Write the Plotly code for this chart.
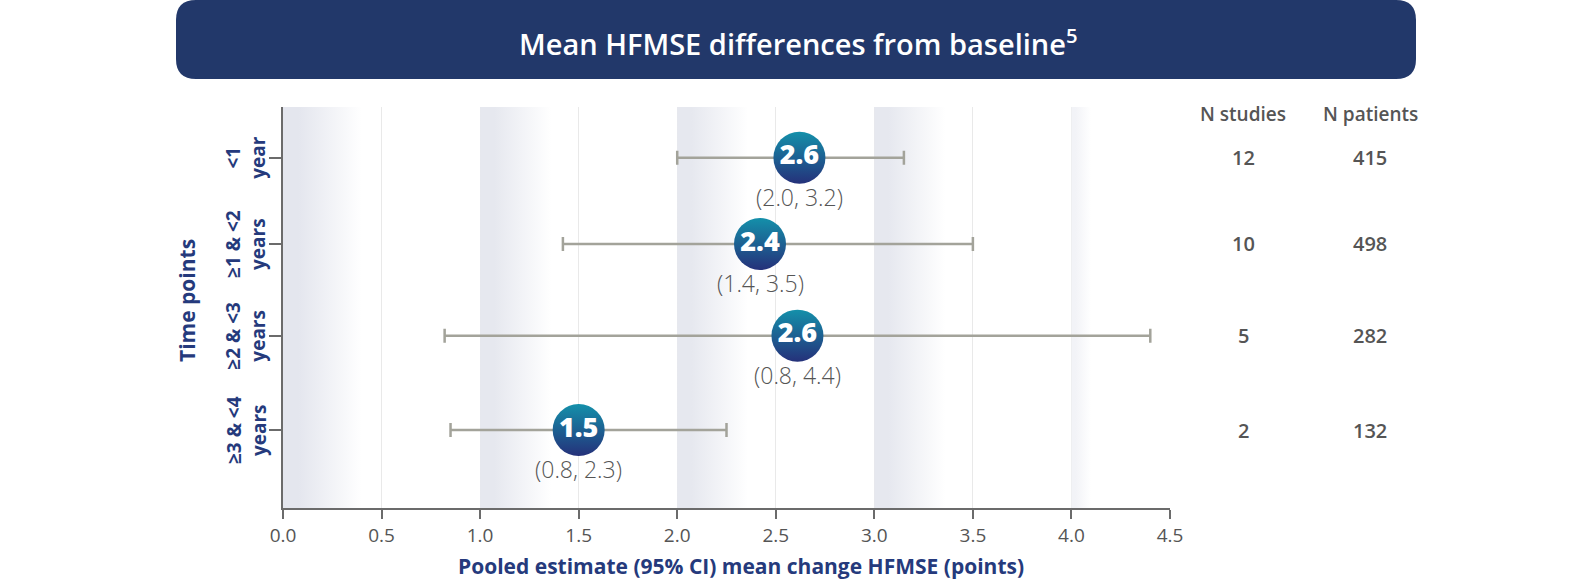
import plotly.graph_objects as go

# ---------------- data ----------------
time_points = ["&lt;1<br>year", "≥1 &amp; &lt;2<br>years", "≥2 &amp; &lt;3<br>years", "≥3 &amp; &lt;4<br>years"]
estimate = [2.62, 2.42, 2.61, 1.50]
ci_low = [2.00, 1.42, 0.82, 0.85]
ci_high = [3.15, 3.50, 4.40, 2.25]
est_text = ["2.6", "2.4", "2.6", "1.5"]
ci_text = ["(2.0, 3.2)", "(1.4, 3.5)", "(0.8, 4.4)", "(0.8, 2.3)"]
n_studies = [12, 10, 5, 2]
n_patients = [415, 498, 282, 132]
x_ticks = [0.0, 0.5, 1.0, 1.5, 2.0, 2.5, 3.0, 3.5, 4.0, 4.5]

# ---------------- layout constants ----------------
W, H = 1592, 586
ML, MR, MT, MB = 283, 422, 107, 78
PW, PH = W - ML - MR, H - MT - MB
NAVY = "#22386a"
AXNAVY = "#253a7c"
GREY_TXT = "#555555"
FONT = "Open Sans"

def px(x):
    return (x - ML) / PW

def py(y):
    return (H - MB - y) / PH

# vertical slot of each row on the (reversed) y axis
rows = [0.0, 0.95, 1.96, 3.0]
y_lo, y_hi = -0.559, 3.859

fig = go.Figure()

# background gradient bands
bands = [(0.0, 0.40, "#e4e6ee"), (1.0, 0.36, "#e6e8ef"), (2.0, 0.36, "#e6e8ef"),
         (3.0, 0.36, "#e6e8ef"), (4.0, 0.10, "#f2f3f7")]
for start, width, col in bands:
    fig.add_trace(go.Scatter(
        x=[start, start + width, start + width, start, start],
        y=[y_lo, y_lo, y_hi, y_hi, y_lo],
        mode="lines", line=dict(width=0), fill="toself",
        fillgradient=dict(type="horizontal",
                          colorscale=[[0, col], [0.2, col], [1, "#ffffff"]]),
        hoverinfo="skip", showlegend=False))

# error bars
fig.add_trace(go.Scatter(
    x=estimate, y=rows, mode="markers",
    marker=dict(size=1, color="rgba(0,0,0,0)"),
    error_x=dict(type="data", symmetric=False,
                 array=[h - e for h, e in zip(ci_high, estimate)],
                 arrayminus=[e - l for e, l in zip(estimate, ci_low)],
                 color="#a3a39a", thickness=2.5, width=7),
    hoverinfo="skip", showlegend=False))

# estimate markers
fig.add_trace(go.Scatter(
    x=estimate, y=rows, mode="markers+text",
    text=est_text, textposition="middle center",
    textfont=dict(family=FONT, size=27, color="white", weight=800),
    marker=dict(size=52, color="#1490aa",
                gradient=dict(type="vertical", color="#25317a"),
                line=dict(width=0)),
    showlegend=False))

annotations = []

def ann(x, y, text, size, color, weight="normal", xref="paper", yref="paper", **kw):
    annotations.append(dict(x=x, y=y, xref=xref, yref=yref, text=text, showarrow=False,
                            xanchor="center", yanchor="middle",
                            font=dict(family=FONT, size=size, color=color, weight=weight), **kw))

# CI labels
for e, r, t in zip(estimate, rows, ci_text):
    ann(e, r, t, 23, GREY_TXT, weight=300, xref="x", yref="y", yshift=-39)

# row labels (rotated)
for r, t in zip(rows, time_points):
    ann(px(246), r, t, 19, AXNAVY, weight="bold", yref="y", textangle=-90)

# column headers and values
col1, col2 = px(1243), px(1370)
ann(col1, py(114), "N studies", 19, GREY_TXT, weight=600)
ann(col2, py(114), "N patients", 19, GREY_TXT, weight=600)
for r, ns, npat in zip(rows, n_studies, n_patients):
    ann(col1, r, str(ns), 20, GREY_TXT, weight=600, yref="y")
    ann(col2, r, str(npat), 20, GREY_TXT, weight=600, yref="y")

# axis titles
ann(px(187), py(301), "Time points", 21, AXNAVY, weight="bold", textangle=-90)
ann(px(741), py(566), "Pooled estimate (95% CI) mean change HFMSE (points)", 21, AXNAVY, weight="bold")
# banner title
ann(px(798), py(42), "Mean HFMSE differences from baseline<sup>5</sup>", 29, "white", weight=600)

# banner shape with rounded corners
x0, x1, yt, yb, rad = 176, 1416, 0, 79, 20
pts = [
    ("M", (x0 + rad, yt)), ("L", (x1 - rad, yt)), ("Q", (x1, yt), (x1, yt + rad)),
    ("L", (x1, yb - rad)), ("Q", (x1, yb), (x1 - rad, yb)), ("L", (x0 + rad, yb)),
    ("Q", (x0, yb), (x0, yb - rad)), ("L", (x0, yt + rad)), ("Q", (x0, yt), (x0 + rad, yt)),
]
path = ""
for item in pts:
    cmd = item[0]
    coords = " ".join(f"{px(a):.5f},{py(b):.5f}" for a, b in item[1:])
    path += f"{cmd} {coords} "
path += "Z"

fig.update_layout(
    width=W, height=H,
    margin=dict(l=ML, r=MR, t=MT, b=MB),
    paper_bgcolor="white", plot_bgcolor="white",
    shapes=[dict(type="path", xref="paper", yref="paper", path=path,
                 fillcolor=NAVY, line=dict(width=0), layer="below")],
    annotations=annotations,
    xaxis=dict(range=[0, 4.5], tickvals=x_ticks, ticktext=[f"{v:.1f}" for v in x_ticks],
               showgrid=True, gridcolor="#e9e9e9", gridwidth=1,
               showline=True, linecolor="#6b6b6b", linewidth=2,
               ticks="outside", ticklen=9, tickwidth=2, tickcolor="#6b6b6b",
               tickfont=dict(family=FONT, size=19, color=GREY_TXT),
               zeroline=False, fixedrange=True),
    yaxis=dict(range=[y_hi, y_lo], tickvals=rows, showticklabels=False,
               showgrid=False, zeroline=False,
               showline=True, linecolor="#6b6b6b", linewidth=2,
               ticks="outside", ticklen=12, tickwidth=2, tickcolor="#6b6b6b",
               fixedrange=True),
)

fig.write_html("out.html")
